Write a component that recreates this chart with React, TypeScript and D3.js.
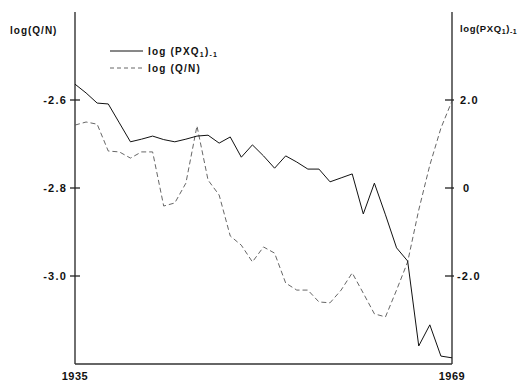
import * as d3 from "d3";

const years = [
  1935, 1936, 1937, 1938, 1939, 1940, 1941, 1942, 1943, 1944, 1945, 1946,
  1947, 1948, 1949, 1950, 1951, 1952, 1953, 1954, 1955, 1956, 1957, 1958,
  1959, 1960, 1961, 1962, 1963, 1964, 1965, 1966, 1967, 1968, 1969,
];

// log(PXQ1)-1, read against the right axis
const logPXQ = [
  2.36, 2.16, 1.93, 1.91, 1.48, 1.05, 1.11, 1.18, 1.1, 1.05, 1.11, 1.18,
  1.2, 1.02, 1.16, 0.7, 0.98, 0.73, 0.45, 0.73, 0.59, 0.43, 0.43, 0.14,
  0.23, 0.32, -0.59, 0.11, -0.61, -1.36, -1.66, -3.59, -3.11, -3.82, -3.86,
];

// log(Q/N), read against the left axis
const logQN = [
  -2.657, -2.65, -2.655, -2.716, -2.718, -2.732, -2.718, -2.718, -2.841,
  -2.834, -2.789, -2.659, -2.782, -2.816, -2.909, -2.93, -2.968, -2.934,
  -2.948, -3.016, -3.032, -3.032, -3.059, -3.061, -3.032, -2.993, -3.039,
  -3.086, -3.093, -3.032, -2.968, -2.85, -2.748, -2.664, -2.602,
];

const leftTicks = [-2.6, -2.8, -3.0];
const leftTickLabels = ["-2.6", "-2.8", "-3.0"];
const rightTicks = [2, 0, -2];
const rightTickLabels = ["2.0", "0", "-2.0"];
const xLabels = [1935, 1969];

const W = 530;
const H = 383;
const left = 75;
const right = 452;
const top = 12;
const bottom = 364;

const font = "'Liberation Sans', Arial, sans-serif";

export default function App() {
  const x = d3.scaleLinear().domain([1935, 1969]).range([left, right]);
  const yL = d3.scaleLinear().domain([-3.2, -2.4]).range([bottom, top]);
  const yR = d3.scaleLinear().domain([-4, 4]).range([bottom, top]);

  const solid = d3
    .line<number>()
    .x((_, i) => x(years[i]))
    .y((d) => yR(d));
  const dashed = d3
    .line<number>()
    .x((_, i) => x(years[i]))
    .y((d) => yL(d));

  return (
    <svg
      width={W}
      height={H}
      style={{ position: "fixed", left: 0, top: 0, background: "#fff" }}
      fontFamily={font}
      fontWeight="bold"
    >
      {/* axes */}
      <g stroke="#333" strokeWidth={1.4} fill="none">
        <line x1={left} y1={top} x2={left} y2={bottom} />
        <line x1={right} y1={top} x2={right} y2={bottom} />
        <line x1={left} y1={bottom} x2={right} y2={bottom} />
      </g>

      {/* left ticks */}
      {leftTicks.map((t, i) => (
        <g key={"l" + t}>
          <line x1={left - 5} x2={left + 5} y1={yL(t)} y2={yL(t)} stroke="#222" strokeWidth={1.3} />
          <text
            x={left - 8}
            y={yL(t)}
            dy="0.35em"
            textAnchor="end"
            fontSize={11}
            letterSpacing={1.2}
            fill="#111"
          >
            {leftTickLabels[i]}
          </text>
        </g>
      ))}

      {/* right ticks */}
      {rightTicks.map((t, i) => (
        <g key={"r" + t}>
          <line x1={right - 7} x2={right + 2} y1={yR(t)} y2={yR(t)} stroke="#222" strokeWidth={1.3} />
          <text
            x={t === 0 ? right + 11 : t < 0 ? right + 5 : right + 8}
            y={yR(t)}
            dy="0.35em"
            fontSize={11}
            letterSpacing={1.2}
            fill="#111"
          >
            {rightTickLabels[i]}
          </text>
        </g>
      ))}

      {/* x labels */}
      {xLabels.map((yr) => (
        <text
          key={yr}
          x={x(yr)}
          y={376}
          dy="0.35em"
          textAnchor="middle"
          fontSize={11}
          letterSpacing={0.5}
          fill="#111"
        >
          {yr}
        </text>
      ))}

      {/* axis titles */}
      <text x={10} y={30} dy="0.35em" fontSize={10} letterSpacing={1} fill="#111">
        log(Q/N)
      </text>
      <text x={460} y={29} dy="0.35em" fontSize={9.5} letterSpacing={0.6} fill="#111">
        log(PXQ
        <tspan fontSize={7} dy="2">1</tspan>
        <tspan dy="-2">)</tspan>
        <tspan fontSize={7} dy="2">-1</tspan>
      </text>

      {/* legend */}
      <line x1={110} x2={143} y1={51} y2={51} stroke="#111" strokeWidth={1} />
      <text x={148} y={51} dy="0.35em" fontSize={10} letterSpacing={1.2} fill="#111">
        log (PXQ
        <tspan fontSize={7} dy="2">1</tspan>
        <tspan dy="-2">)</tspan>
        <tspan fontSize={7} dy="2">-1</tspan>
      </text>
      <line
        x1={110}
        x2={143}
        y1={68}
        y2={68}
        stroke="#555"
        strokeWidth={0.9}
        strokeDasharray="4 3"
      />
      <text x={148} y={68} dy="0.35em" fontSize={10} letterSpacing={1.2} fill="#111">
        log (Q/N)
      </text>

      {/* series */}
      <path d={dashed(logQN) ?? ""} fill="none" stroke="#555" strokeWidth={0.9} strokeDasharray="5 3" />
      <path d={solid(logPXQ) ?? ""} fill="none" stroke="#111" strokeWidth={1} />
    </svg>
  );
}
